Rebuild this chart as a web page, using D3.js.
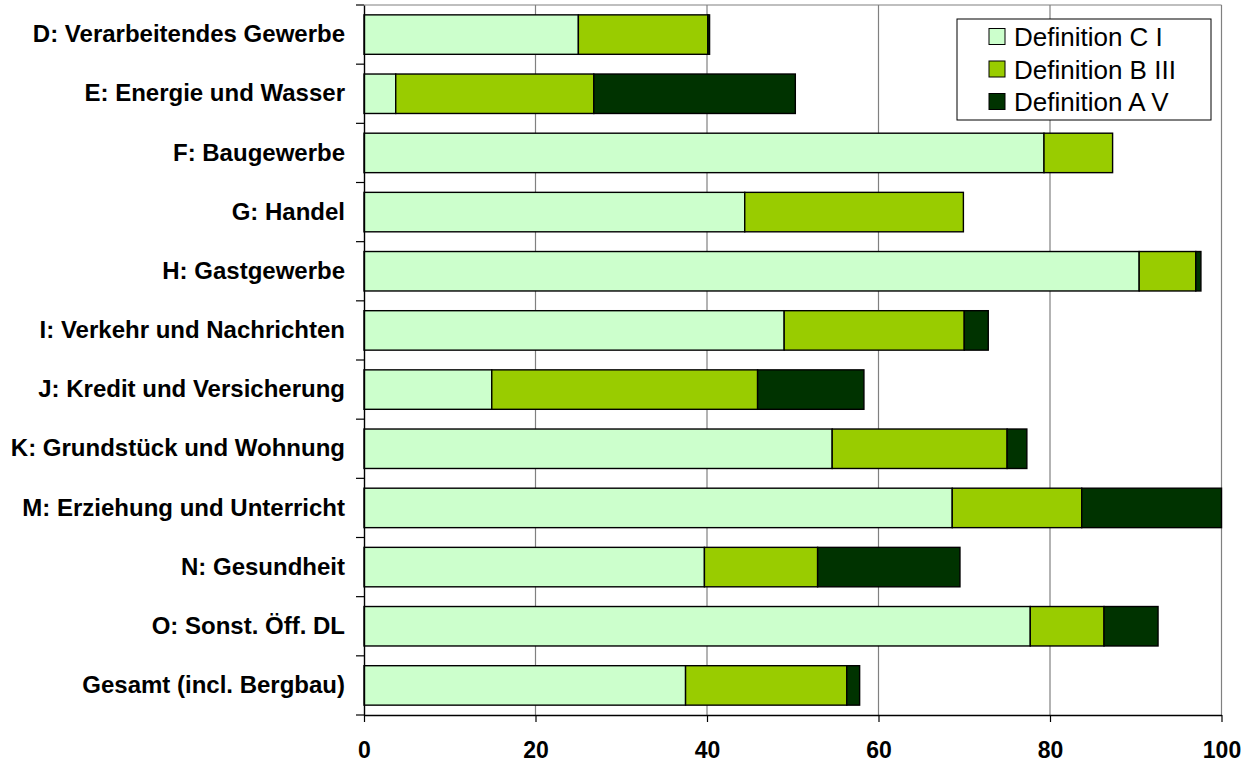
<!DOCTYPE html>
<html>
<head>
<meta charset="utf-8">
<script src="https://cdn.jsdelivr.net/npm/d3@7"></script>
<style>
  html, body { margin: 0; padding: 0; background: #fff; }
  svg { display: block; font-family: Arial, "Liberation Sans", Helvetica, sans-serif; }
</style>
</head>
<body>
<svg id="chart" width="1256" height="763"></svg>
<script>
// Sectors (top to bottom)
const categories = [
  "D: Verarbeitendes Gewerbe",
  "E: Energie und Wasser",
  "F: Baugewerbe",
  "G: Handel",
  "H: Gastgewerbe",
  "I: Verkehr und Nachrichten",
  "J: Kredit und Versicherung",
  "K: Grundstück und Wohnung",
  "M: Erziehung und Unterricht",
  "N: Gesundheit",
  "O: Sonst. Öff. DL",
  "Gesamt (incl. Bergbau)"
];

// Shares per definition (stacked)
const defCI   = [25.0,  3.7, 79.3, 44.4, 90.4, 49.0, 14.9, 54.6, 68.6, 39.7, 77.7, 37.5];
const defBIII = [15.1, 23.1,  8.0, 25.5,  6.6, 21.0, 31.0, 20.4, 15.1, 13.2,  8.6, 18.8];
const defAV   = [ 0.2, 23.5,  0.0,  0.0,  0.6,  2.8, 12.4,  2.3, 16.3, 16.6,  6.3,  1.5];

const seriesNames = ["Definition C I", "Definition B III", "Definition A V"];
const seriesColors = ["#CCFFCC", "#99CC00", "#003300"];
const xTicks = [0, 20, 40, 60, 80, 100];

const rows = categories.map((c, i) => ({
  cat: c,
  "Definition C I": defCI[i],
  "Definition B III": defBIII[i],
  "Definition A V": defAV[i]
}));

const svg = d3.select("#chart");
const plot = { left: 364, right: 1221.5, top: 5, bottom: 715 };

const x = d3.scaleLinear().domain([0, 100]).range([plot.left, plot.right]);
const y = d3.scaleBand().domain(categories).range([plot.top, plot.bottom])
  .paddingInner(1 / 3).paddingOuter(1 / 6);
const color = d3.scaleOrdinal().domain(seriesNames).range(seriesColors);

// Plot frame and vertical gridlines
svg.append("g")
  .selectAll("line")
  .data(xTicks.slice(1))
  .join("line")
  .attr("x1", d => x(d)).attr("x2", d => x(d))
  .attr("y1", plot.top).attr("y2", plot.bottom)
  .attr("stroke", "#808080").attr("stroke-width", 1.2);

svg.append("line")
  .attr("x1", plot.left).attr("x2", plot.right)
  .attr("y1", plot.top).attr("y2", plot.top)
  .attr("stroke", "#808080").attr("stroke-width", 1.2);

// Stacked bars
const stack = d3.stack().keys(seriesNames);
const layers = stack(rows);

svg.append("g")
  .selectAll("g")
  .data(layers)
  .join("g")
  .attr("fill", d => color(d.key))
  .selectAll("rect")
  .data(d => d.filter(s => s[1] - s[0] > 0))
  .join("rect")
  .attr("x", d => x(d[0]))
  .attr("width", d => x(d[1]) - x(d[0]))
  .attr("y", d => y(d.data.cat))
  .attr("height", y.bandwidth())
  .attr("stroke", "#000")
  .attr("stroke-width", 1.4);

// Y axis (category labels)
const yAxis = svg.append("g")
  .attr("transform", `translate(${plot.left},0)`)
  .call(d3.axisLeft(y).tickSize(0).tickPadding(19));
yAxis.select(".domain").attr("stroke", "#000").attr("stroke-width", 1.4);
yAxis.selectAll("text")
  .attr("font-size", 24).attr("font-weight", "bold").attr("fill", "#000")
  .attr("font-family", "Arial, 'Liberation Sans', sans-serif");

// Category separator ticks on the left axis
const bounds = d3.range(categories.length + 1).map(i => plot.top + i * y.step());
svg.append("g")
  .selectAll("line")
  .data(bounds)
  .join("line")
  .attr("x1", plot.left - 8).attr("x2", plot.left)
  .attr("y1", d => d).attr("y2", d => d)
  .attr("stroke", "#000").attr("stroke-width", 1.2);

// X axis
const xAxis = svg.append("g")
  .attr("transform", `translate(0,${plot.bottom})`)
  .call(d3.axisBottom(x).tickValues(xTicks).tickSize(7).tickPadding(20).tickSizeOuter(0));
xAxis.select(".domain").attr("stroke", "#000").attr("stroke-width", 1.4);
xAxis.selectAll(".tick line").attr("stroke", "#000").attr("stroke-width", 1.2);
xAxis.selectAll("text")
  .attr("font-size", 23).attr("font-weight", "bold").attr("fill", "#000")
  .attr("font-family", "Arial, 'Liberation Sans', sans-serif");

// Legend
const legend = svg.append("g").attr("transform", "translate(957,19)");
legend.append("rect")
  .attr("width", 254).attr("height", 101)
  .attr("fill", "#fff").attr("stroke", "#000").attr("stroke-width", 1);
const items = legend.selectAll("g.item")
  .data(seriesNames)
  .join("g")
  .attr("class", "item")
  .attr("transform", (d, i) => `translate(32,${18 + i * 32.5})`);
items.append("rect")
  .attr("x", 0).attr("y", -8.5)
  .attr("width", 16).attr("height", 16)
  .attr("fill", d => color(d))
  .attr("stroke", "#000").attr("stroke-width", 1);
items.append("text")
  .attr("x", 25).attr("y", 0).attr("dy", "0.35em")
  .attr("font-size", 26).attr("fill", "#000")
  .attr("font-family", "Arial, 'Liberation Sans', sans-serif")
  .text(d => d);
</script>
</body>
</html>
